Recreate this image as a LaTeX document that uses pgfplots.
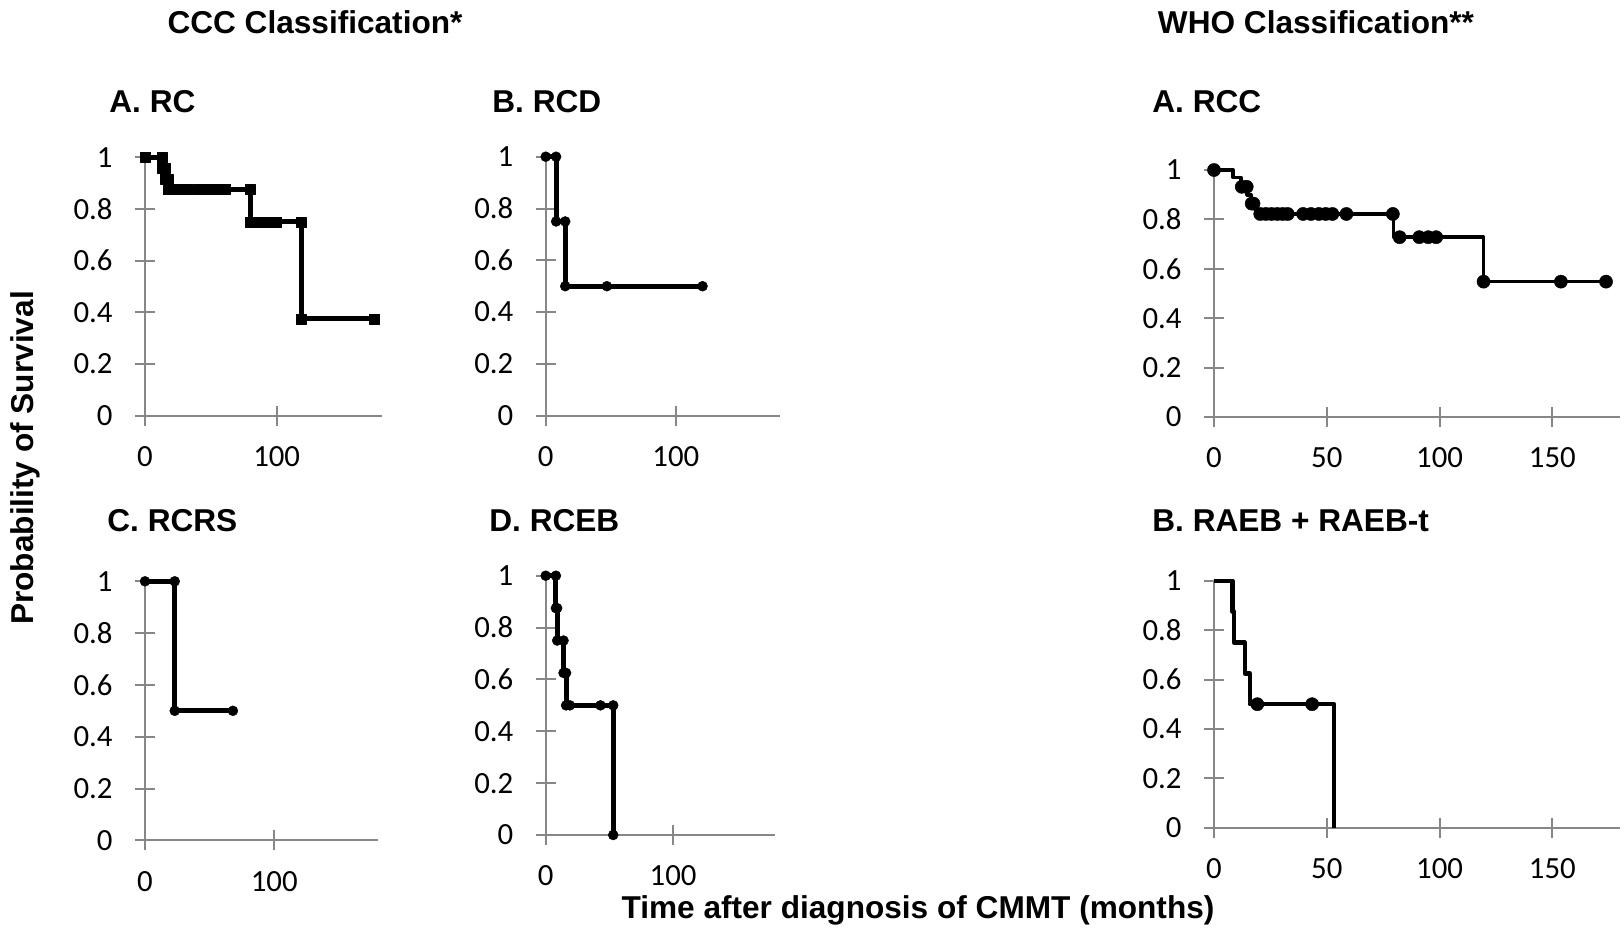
\documentclass[border=0pt]{standalone}
\usepackage{fontspec}
\setmainfont{Liberation Sans}
\newfontfamily\carlito{Carlito}
\usepackage{pgfplots}
\pgfplotsset{compat=1.18}
\definecolor{axgray}{HTML}{878787}
\pgfplotsset{
  km/.style={
    scale only axis, anchor=south west, axis lines=left,
    axis line style={-, axgray, line width=1pt},
    every tick/.style={axgray, line width=1pt},
    tick align=center, major tick length=10pt,
    xmin=0, xmax=180, ymin=0, ymax=1,
    ytick={0,0.2,0.4,0.6,0.8,1}, yticklabels={0,0.2,0.4,0.6,0.8,1},
    tick label style={font=\carlito\fontsize{15.4}{18}\selectfont, inner sep=0pt},
    yticklabel style={anchor=east, xshift=-11pt},
    xticklabel style={anchor=center, yshift=-15.5pt},
    clip=false,
  },
  ccc/.style={km, xtick={0,100}, xticklabels={0,100}},
  who/.style={km, xtick={0,50,100,150}, xticklabels={0,50,100,150}},
  kmline/.style={black, line width=#1, line join=round},
}
\newcommand{\lab}{\bfseries\fontsize{15.8}{19}\selectfont}

\begin{document}
\begin{tikzpicture}
\path[use as bounding box, fill=white] (0,0) rectangle (812pt,-474pt);

% titles
\node[font=\lab, inner sep=0pt] at (157.5pt,-11pt) {CCC Classification*};
\node[font=\lab, inner sep=0pt] at (658pt,-11pt) {WHO Classification**};
\node[font=\lab, anchor=west, inner sep=0pt] at (54.5pt,-50.75pt) {A. RC};
\node[font=\lab, anchor=west, inner sep=0pt] at (246pt,-50.75pt) {B. RCD};
\node[font=\lab, anchor=west, inner sep=0pt] at (576pt,-50.75pt) {A. RCC};
\node[font=\lab, anchor=west, inner sep=0pt] at (53.5pt,-260.5pt) {C. RCRS};
\node[font=\lab, anchor=west, inner sep=0pt] at (244.5pt,-260.5pt) {D. RCEB};
\node[font=\lab, anchor=west, inner sep=0pt] at (576pt,-260.5pt) {B. RAEB + RAEB-t};
\node[font=\lab, rotate=90, inner sep=0pt] at (12.5pt,-229pt) {Probability of Survival};
\node[font=\lab, inner sep=0pt] at (459pt,-455pt) {Time after diagnosis of CMMT (months)};

% CCC A. RC
\begin{axis}[ccc, at={(72.5pt,-207.85pt)}, width=118.5pt, height=129.2pt]
\addplot[kmline=2.5pt, mark=square*, mark size=2.5pt, mark options={line width=0.2pt}] coordinates {
  (0,1) (13,1) (13,0.958) (15,0.958) (15,0.917) (17.5,0.917) (17.5,0.875)
  (21,0.875) (25,0.875) (29,0.875) (33,0.875) (41,0.875) (45,0.875) (49,0.875)
  (53,0.875) (57,0.875) (61,0.875) (80,0.875) (80,0.75) (84,0.75) (88,0.75)
  (92,0.75) (96,0.75) (100,0.75) (118.5,0.75) (118.5,0.375) (174,0.375)};
\end{axis}

% CCC B. RCD
\begin{axis}[ccc, at={(272.85pt,-207.85pt)}, width=117.15pt, height=129.5pt]
\addplot[kmline=2.5pt, mark=*, mark size=2.5pt, mark options={line width=0.2pt}] coordinates {
  (0,1) (8,1) (8,0.75) (15,0.75) (15,0.5) (47,0.5) (120.5,0.5)};
\end{axis}

% WHO A. RCC
\begin{axis}[who, at={(607pt,-208.5pt)}, width=203pt, height=123.5pt]
\addplot[kmline=1.7pt] coordinates {
  (0,1) (8.5,1) (8.5,0.97) (12,0.97) (12,0.932) (14.5,0.932) (14.5,0.898)
  (16.5,0.898) (16.5,0.864) (18.5,0.864) (18.5,0.822) (79.5,0.822) (79.5,0.728)
  (119.5,0.728) (119.5,0.548) (174,0.548)};
\addplot[only marks, mark=*, mark size=3.3pt, mark options={black, line width=0.2pt}] coordinates {
  (0,1) (12.3,0.932) (14.5,0.932) (16.7,0.864) (17.5,0.864)
  (20.5,0.822) (23,0.822) (25.5,0.822) (28,0.822) (30.5,0.822) (32.7,0.822)
  (39.5,0.822) (43,0.822) (46.5,0.822) (49.5,0.822) (52.5,0.822) (58.7,0.822)
  (79.3,0.822) (82.3,0.728) (91,0.728) (95,0.728) (98.5,0.728)
  (119.5,0.548) (153.8,0.548) (173.8,0.548)};
\end{axis}

% CCC C. RCRS
\begin{axis}[ccc, at={(72.5pt,-420.15pt)}, width=116.35pt, height=129.5pt]
\addplot[kmline=2.4pt, mark=*, mark size=2.5pt, mark options={line width=0.2pt}] coordinates {
  (0,1) (23,1) (23,0.5) (68,0.5)};
\end{axis}

% CCC D. RCEB
\begin{axis}[ccc, at={(272.85pt,-417.5pt)}, width=114.65pt, height=129.65pt]
\addplot[kmline=2.5pt, mark=*, mark size=2.5pt, mark options={line width=0.2pt}] coordinates {
  (0,1) (8,1) (8,0.875) (9,0.875) (9,0.75) (14,0.75) (14,0.625) (16,0.625)
  (16,0.5) (19,0.5) (43,0.5) (53,0.5) (53,0)};
\end{axis}

% WHO B. RAEB + RAEB-t
\begin{axis}[who, at={(607pt,-413.85pt)}, width=203pt, height=123.5pt]
\addplot[kmline=2.2pt] coordinates {
  (0,1) (8.2,1) (8.2,0.875) (8.8,0.875) (8.8,0.75) (13.7,0.75) (13.7,0.625)
  (15.9,0.625) (15.9,0.5) (53.3,0.5) (53.3,0)};
\addplot[only marks, mark=*, mark size=3.3pt, mark options={black, line width=0.2pt}] coordinates {
  (19.2,0.5) (43.5,0.5)};
\end{axis}
\end{tikzpicture}
\end{document}
